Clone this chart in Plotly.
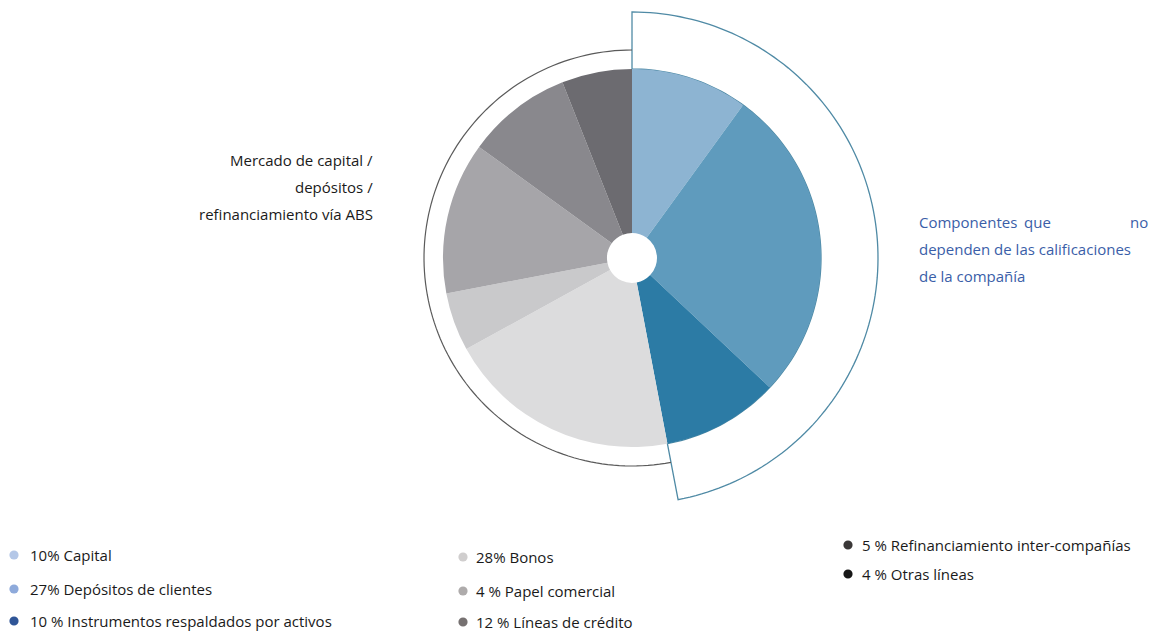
import math
import plotly.graph_objects as go

W, H = 1155, 632

# ---- data (slice sizes; legend texts as printed) ----
categories = ["Capital", "Depósitos de clientes", "Instrumentos respaldados por activos",
              "Bonos", "Papel comercial", "Líneas de crédito",
              "Refinanciamiento inter-compañías", "Otras líneas"]
slice_values = [10, 27, 10, 20, 5, 13, 9, 6]
legend_labels = ["10% Capital", "27% Depósitos de clientes",
                 "10 % Instrumentos respaldados por activos",
                 "28% Bonos", "4 % Papel comercial", "12 % Líneas de crédito",
                 "5 % Refinanciamiento inter-compañías", "4 % Otras líneas"]
slice_colors = ["#8db4d2", "#5f9bbd", "#2c7ba5", "#dcdcdd", "#c9c9cb",
                "#a6a5a9", "#89888d", "#6c6b70"]
legend_colors = ["#b4c7e7", "#8eaadb", "#2f5597", "#d0cece", "#aeabab",
                 "#767171", "#3a3838", "#171717"]
independent_count = 3  # first three slices: not rating dependent

# ---- geometry (pixels) ----
cx, cy, R = 632, 258, 189
hole_r = 25
outer_R = 246
ring_R = 208

FONT = "Open Sans"


def px(x):
    return x / W


def py(y):
    return 1 - y / H


def pt(angle_deg, r):
    a = math.radians(angle_deg)
    return cx + r * math.sin(a), cy - r * math.cos(a)


total = sum(slice_values)
split_angle = 360 * sum(slice_values[:independent_count]) / total


def arc_points(a0, a1, r, n=120):
    return [pt(a0 + (a1 - a0) * i / n, r) for i in range(n + 1)]


fig = go.Figure()
fig.add_trace(go.Pie(
    labels=categories, values=slice_values, sort=False, direction="clockwise",
    rotation=0, hole=hole_r / R, textinfo="none", hoverinfo="label+value",
    marker=dict(colors=slice_colors, line=dict(width=0)), showlegend=False,
    domain=dict(x=[px(cx - R), px(cx + R)], y=[py(cy + R), py(cy - R)]),
))

shapes = []
# right annular sector (white with blue outline)
outer = arc_points(0, split_angle, outer_R)
inner = arc_points(split_angle, 0, R)
pts = outer + inner
path = "M " + " L ".join(f"{px(x):.5f},{py(y):.5f}" for x, y in pts) + " Z"
shapes.append(dict(type="path", path=path, xref="paper", yref="paper",
                   fillcolor="white", line=dict(color="#4f8aa5", width=1.3),
                   layer="below"))
# left thin arc
lp = arc_points(split_angle, 360, ring_R)
lpath = "M " + " L ".join(f"{px(x):.5f},{py(y):.5f}" for x, y in lp)
shapes.append(dict(type="path", path=lpath, xref="paper", yref="paper",
                   line=dict(color="#5a5a5a", width=1.2), layer="below"))

annotations = []
# legend
legend_pos = [(14, 28, 555), (14, 28, 589), (14, 28, 621),
              (463, 474, 557), (463, 474, 591), (463, 474, 622),
              (848, 860, 545), (848, 860, 574)]
dot_r = 4.6
for (dx, tx, yy), lab, col in zip(legend_pos, legend_labels, legend_colors):
    shapes.append(dict(type="circle", xref="paper", yref="paper",
                       x0=px(dx - dot_r), x1=px(dx + dot_r),
                       y0=py(yy + dot_r), y1=py(yy - dot_r),
                       fillcolor=col, line=dict(width=0)))
    annotations.append(dict(x=px(tx), y=py(yy), xref="paper", yref="paper",
                            text=lab, showarrow=False, xanchor="left",
                            yanchor="middle",
                            font=dict(family=FONT, size=15, color="#1a1a1a")))

# left label
left_lines = ["Mercado de capital /", "depósitos /", "refinanciamiento vía ABS"]
for i, t in enumerate(left_lines):
    annotations.append(dict(x=px(375), y=py(160 + 27 * i), xref="paper", yref="paper",
                            text=t, showarrow=False, xanchor="right", yanchor="middle",
                            font=dict(family=FONT, size=15, color="#1a1a1a")))

# right label (justified first line)
blue = "#3a5ea8"
rf = dict(family=FONT, size=15, color=blue)
annotations += [
    dict(x=px(917), y=py(222), text="Componentes", xanchor="left"),
    dict(x=px(1037), y=py(222), text="que", xanchor="center"),
    dict(x=px(1150), y=py(222), text="no", xanchor="right"),
    dict(x=px(917), y=py(249), text="dependen de las calificaciones", xanchor="left"),
    dict(x=px(917), y=py(276), text="de la compañía", xanchor="left"),
]
for a in annotations[-5:]:
    a.update(xref="paper", yref="paper", showarrow=False, yanchor="middle", font=rf)

fig.update_layout(
    width=W, height=H, margin=dict(l=0, r=0, t=0, b=0),
    paper_bgcolor="white", plot_bgcolor="white",
    shapes=shapes, annotations=annotations, showlegend=False,
)
fig.write_html("out.html", config={"displayModeBar": False},
               post_script="document.body.style.margin='0';document.body.style.overflow='hidden';")
